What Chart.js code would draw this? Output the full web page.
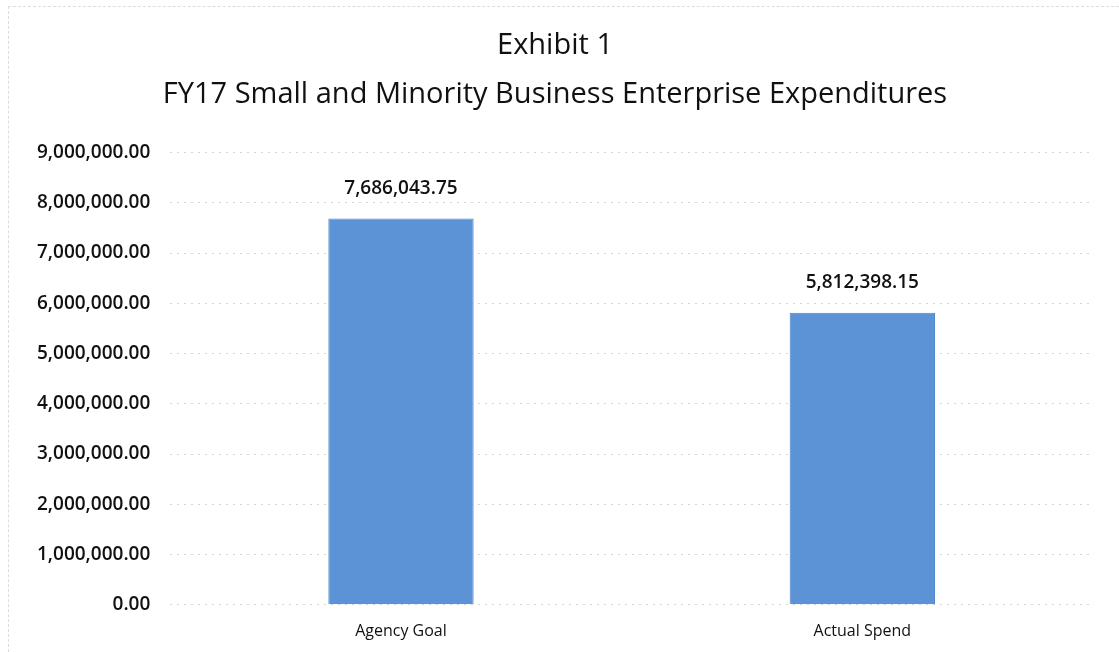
<!DOCTYPE html>
<html>
<head>
<meta charset="utf-8">
<script src="https://cdn.jsdelivr.net/npm/chart.js@4"></script>
<style>
  body { margin: 0; background: #fff; }
  #wrap { position: absolute; left: 8px; top: 6px; width: 1111px; height: 646px; border-left: 1px dashed #ddd; border-top: 1px dashed #ddd; box-sizing: border-box; }
</style>
</head>
<body>
<div id="wrap"><canvas id="myChart"></canvas></div>
<script>
var categories = ["Agency Goal", "Actual Spend"];
var spend = [7686043.75, 5812398.15];
var titleLines = ["Exhibit 1", "FY17 Small and Minority Business Enterprise Expenditures"];

function money(v) {
  return v.toLocaleString("en-US", { minimumFractionDigits: 2, maximumFractionDigits: 2 });
}

var valueLabels = {
  id: "valueLabels",
  afterDatasetsDraw: function(chart) {
    var ctx = chart.ctx;
    var meta = chart.getDatasetMeta(0);
    ctx.save();
    ctx.font = "600 19px 'Open Sans', sans-serif";
    ctx.fillStyle = "#111";
    ctx.textAlign = "center";
    ctx.textBaseline = "bottom";
    meta.data.forEach(function(bar, i) {
      ctx.fillText(money(spend[i]), bar.x, bar.y - 21);
    });
    ctx.restore();
  }
};

var ctx = document.getElementById("myChart").getContext("2d");
var myChart = new Chart(ctx, {
  type: "bar",
  data: {
    labels: categories,
    datasets: [{
      data: spend,
      backgroundColor: "#5b93d6",
      borderColor: "#4f86c6",
      borderWidth: 1,
      barPercentage: 0.315,
      categoryPercentage: 1
    }]
  },
  options: {
    responsive: true,
    maintainAspectRatio: false,
    animation: false,
    layout: { padding: { left: 8, right: 26, top: 10, bottom: 2 } },
    plugins: {
      legend: { display: false },
      tooltip: { enabled: false },
      title: {
        display: true,
        text: titleLines,
        color: "#111",
        font: { family: "'Open Sans', sans-serif", size: 29, weight: "normal", lineHeight: 1.7 },
        padding: { top: 4, bottom: 33 }
      }
    },
    scales: {
      x: {
        grid: { display: false },
        border: { display: false },
        ticks: { color: "#111", font: { family: "'Open Sans', sans-serif", size: 16 }, padding: 9 }
      },
      y: {
        min: 0,
        max: 9000000,
        ticks: {
          stepSize: 1000000,
          color: "#111",
          padding: 20,
          font: { family: "'Open Sans', sans-serif", size: 19, weight: "600" },
          callback: function(v) { return money(v); }
        },
        grid: { color: "#d4d4d4", lineWidth: 1, drawTicks: false },
        border: { display: false, dash: [2, 5] }
      }
    }
  },
  plugins: [valueLabels]
});
</script>
</body>
</html>
